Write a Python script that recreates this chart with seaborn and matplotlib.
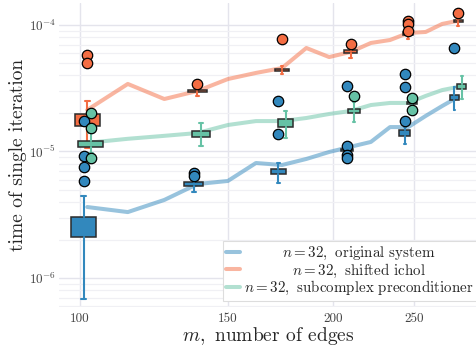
import numpy as np
import pandas as pd
import matplotlib
matplotlib.use("Agg")
import matplotlib.pyplot as plt
from matplotlib import ticker
import seaborn as sns

# ---- data -------------------------------------------------------------
labels = [r"$n=32,$ original system",
          r"$n=32,$ shifted ichol",
          r"$n=32,$ subcomplex preconditioner"]
colors = ["#3288bd", "#f46d43", "#66c2a5"]

# mean time per iteration for every graph size
line_m = [102, 114, 126, 138, 150, 162, 174, 186, 198, 210, 222, 234, 246, 258, 270, 282]
mean_original = [3.64e-6, 3.32e-6, 4.14e-6, 5.53e-6, 5.85e-6, 8.11e-6, 7.82e-6, 8.73e-6,
                 9.91e-6, 1.09e-5, 1.19e-5, 1.56e-5, 1.56e-5, 1.91e-5, 2.29e-5, 2.70e-5]
mean_ichol = [2.13e-5, 3.42e-5, 2.60e-5, 3.01e-5, 3.74e-5, 4.18e-5, 4.57e-5, 6.58e-5,
              5.58e-5, 6.12e-5, 7.21e-5, 7.61e-5, 8.65e-5, 8.81e-5, 1.02e-4, 1.08e-4]
mean_subcomplex = [1.17e-5, 1.26e-5, 1.33e-5, 1.40e-5, 1.62e-5, 1.74e-5, 1.74e-5, 1.84e-5,
                   1.98e-5, 2.09e-5, 2.33e-5, 2.42e-5, 2.42e-5, 2.75e-5, 3.06e-5, 3.24e-5]

# distribution summaries at selected graph sizes
box_m = [102, 138, 174, 210, 246, 282]

orig_whislo = [6.8e-7, 4.79e-6, 5.61e-6, 9.9e-6, 1.15e-5, 2.13e-5]
orig_q1 = [2.11e-6, 5.34e-6, 6.60e-6, 1.01e-5, 1.33e-5, 2.55e-5]
orig_q3 = [3.03e-6, 5.69e-6, 7.23e-6, 1.05e-5, 1.48e-5, 2.80e-5]
orig_whishi = [4.45e-6, 6.18e-6, 8.15e-6, 1.07e-5, 1.56e-5, 3.22e-5]
orig_fliers = [[1.75e-5, 9.2e-6, 7.5e-6, 5.85e-6], [6.76e-6, 6.40e-6], [2.52e-5, 1.37e-5],
               [3.30e-5, 1.10e-5, 9.37e-6, 8.89e-6], [4.10e-5, 3.21e-5, 1.75e-5], [6.55e-5]]

ichol_whislo = [1.07e-5, 2.75e-5, 4.07e-5, 5.46e-5, 7.75e-5, 9.82e-5]
ichol_q1 = [1.59e-5, 2.95e-5, 4.33e-5, 5.97e-5, 8.34e-5, 1.06e-4]
ichol_q3 = [1.98e-5, 3.09e-5, 4.52e-5, 6.34e-5, 8.81e-5, 1.10e-4]
ichol_whishi = [2.52e-5, 3.17e-5, 4.74e-5, 6.83e-5, 9.13e-5, 1.12e-4]
ichol_fliers = [[5.79e-5, 5.03e-5], [3.40e-5], [7.75e-5], [7.04e-5],
                [1.08e-4, 1.02e-4, 8.97e-5], [1.24e-4]]

sub_whislo = [9.8e-6, 1.10e-5, 1.27e-5, 1.72e-5, 2.29e-5, 2.59e-5]
sub_q1 = [1.08e-5, 1.31e-5, 1.57e-5, 2.01e-5, 2.37e-5, 3.12e-5]
sub_q3 = [1.21e-5, 1.45e-5, 1.80e-5, 2.16e-5, 2.48e-5, 3.42e-5]
sub_whishi = [1.40e-5, 1.67e-5, 2.10e-5, 2.48e-5, 2.55e-5, 3.95e-5]
sub_fliers = [[2.01e-5, 1.53e-5, 8.9e-6], [], [], [2.75e-5], [2.66e-5, 2.13e-5], []]

# ---- style ------------------------------------------------------------
sns.set_style("white")
plt.rcParams["font.family"] = ["cmr10", "DejaVu Serif"]
plt.rcParams["mathtext.fontset"] = "cm"
plt.rcParams["axes.formatter.use_mathtext"] = True
plt.rcParams["axes.unicode_minus"] = False

fig = plt.figure(figsize=(4.77, 3.51), dpi=100)
ax = fig.add_axes([0.1237, 0.1254, 0.8763, 0.8661])

# ---- mean lines -------------------------------------------------------
df = pd.DataFrame({
    "m": line_m * 3,
    "t": mean_original + mean_ichol + mean_subcomplex,
    "method": [labels[0]] * len(line_m) + [labels[1]] * len(line_m) + [labels[2]] * len(line_m),
})
sns.lineplot(data=df, x="m", y="t", hue="method", hue_order=labels,
             palette=colors, linewidth=2.9, alpha=0.5, ax=ax, zorder=1)

# ---- box summaries ----------------------------------------------------
series = [
    (orig_whislo, orig_q1, orig_q3, orig_whishi, orig_fliers),
    (ichol_whislo, ichol_q1, ichol_q3, ichol_whishi, ichol_fliers),
    (sub_whislo, sub_q1, sub_q3, sub_whishi, sub_fliers),
]
dodge = [0.99, 1.0, 1.01]
for (wlo, q1, q3, whi, fl), c, d in zip(series, colors, dodge):
    stats = []
    for i in range(len(box_m)):
        stats.append(dict(whislo=wlo[i], q1=q1[i], med=np.sqrt(q1[i] * q3[i]),
                          q3=q3[i], whishi=whi[i], fliers=np.array(fl[i])))
    ax.bxp(stats, positions=[m * d for m in box_m], widths=7, capwidths=1.4,
           patch_artist=True, manage_ticks=False, zorder=2,
           boxprops=dict(facecolor=c, edgecolor="#2b2b2b", linewidth=1.1),
           whiskerprops=dict(color=c, linewidth=1.5),
           capprops=dict(color=c, linewidth=1.5),
           medianprops=dict(linewidth=0),
           flierprops=dict(marker="o", markerfacecolor=c, markeredgecolor="black",
                           markersize=7.5, markeredgewidth=0.9, zorder=4))

# ---- axes -------------------------------------------------------------
ax.set_xscale("log")
ax.set_yscale("log")
ax.set_xlim(94.4, 297)
ax.set_ylim(5.9e-7, 1.493e-4)

ax.xaxis.set_major_locator(ticker.FixedLocator([100, 150, 200, 250]))
ax.xaxis.set_major_formatter(ticker.FuncFormatter(lambda v, p: f"{v:.0f}"))
ax.xaxis.set_minor_locator(ticker.NullLocator())
ax.yaxis.set_major_locator(ticker.LogLocator(base=10))
ax.yaxis.set_minor_locator(ticker.LogLocator(base=10, subs=np.arange(2, 10)))
ax.yaxis.set_minor_formatter(ticker.NullFormatter())

ax.grid(True, which="major", axis="both", color="#e4e4ec", linewidth=1.0)
ax.grid(True, which="minor", axis="y", color="#f0f0f4", linewidth=0.9)
ax.set_axisbelow(True)
for s in ax.spines.values():
    s.set_visible(False)
ax.tick_params(axis="both", which="both", length=0, labelsize=9.5, colors="#444444")
ax.tick_params(axis="x", pad=4)
ax.tick_params(axis="y", pad=2)

ax.set_xlabel(r"$m,$ number of edges", fontsize=14, labelpad=0)
ax.set_ylabel("time of single iteration", fontsize=14, labelpad=1)

# ---- legend -----------------------------------------------------------
handles, labs = ax.get_legend_handles_labels()
for h in handles:
    h.set_alpha(0.5)
    h.set_linewidth(2.9)
leg = ax.legend(handles, labs, loc="lower right", bbox_to_anchor=(1.0, 0.02),
                borderaxespad=0, fontsize=10.8, handlelength=0.9, handletextpad=0.25,
                labelspacing=-0.04, borderpad=0.25, frameon=True, fancybox=False,
                framealpha=1, edgecolor="#dddddd")
leg.get_frame().set_linewidth(0.8)

# centre the entry texts within the legend column
renderer = fig.canvas.get_renderer()
widths = [t.get_window_extent(renderer).width for t in leg.get_texts()]
wmax = max(widths)
for t, w in zip(leg.get_texts(), widths):
    t.set_position(((wmax - w) / 2, 0))

fig.savefig("out.png", dpi=100)
